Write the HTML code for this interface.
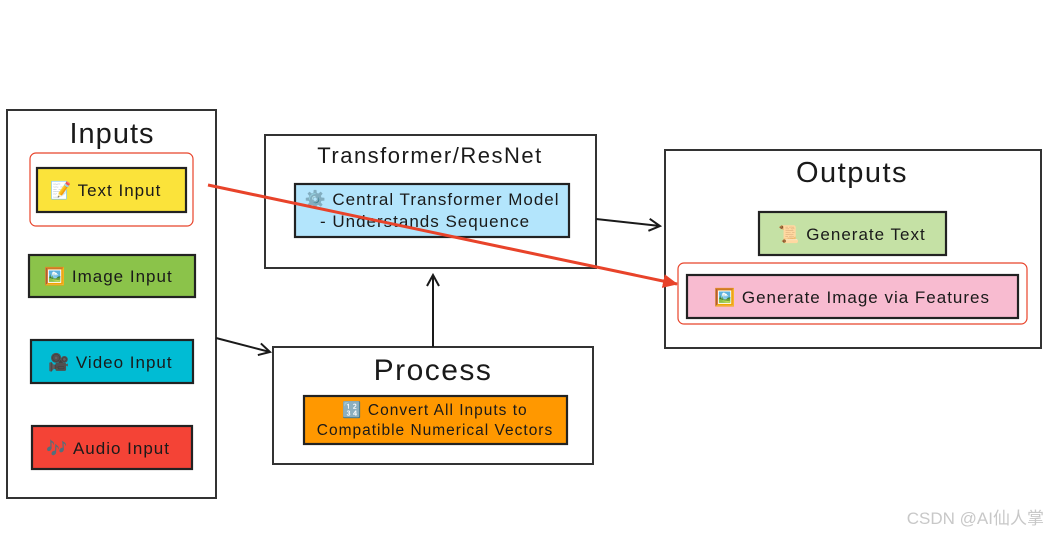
<!DOCTYPE html>
<html><head><meta charset="utf-8"><style>
html,body{margin:0;padding:0;background:#fff;width:1049px;height:534px;overflow:hidden}
svg{display:block}
text{font-family:"Liberation Sans","Noto Sans CJK SC",sans-serif;fill:#1a1a1a}
</style></head><body>
<svg width="1049" height="534" viewBox="0 0 1049 534" xmlns="http://www.w3.org/2000/svg">
<defs>
<marker id="ah" markerWidth="14" markerHeight="14" refX="12" refY="7" orient="auto" markerUnits="userSpaceOnUse">
<path d="M1,1 L12,7 L1,13" fill="none" stroke="#1a1a1a" stroke-width="2"/>
</marker>
<marker id="rh" markerWidth="16" markerHeight="14" refX="14" refY="7" orient="auto" markerUnits="userSpaceOnUse">
<path d="M0,0 L15,7 L0,14 Z" fill="#e8432a"/>
</marker>
</defs>
<g stroke="#333" stroke-width="2" fill="#fff">
<rect x="7" y="110" width="209" height="388"/>
<rect x="265" y="135" width="331" height="133"/>
<rect x="273" y="347" width="320" height="117"/>
<rect x="665" y="150" width="376" height="198"/>
</g>
<text x="112" y="143" font-size="29" text-anchor="middle" letter-spacing="1">Inputs</text>
<text x="430" y="163" font-size="22" text-anchor="middle" letter-spacing="1.5">Transformer/ResNet</text>
<text x="433" y="380" font-size="30" text-anchor="middle" letter-spacing="1.5">Process</text>
<text x="852" y="182" font-size="29" text-anchor="middle" letter-spacing="1.5">Outputs</text>
<g stroke="#222" stroke-width="2.2">
<rect x="37" y="168" width="149" height="44" fill="#fbe33a"/>
<rect x="29" y="255" width="166" height="42" fill="#8bc34a"/>
<rect x="31" y="340" width="162" height="43" fill="#00bcd4"/>
<rect x="32" y="426" width="160" height="43" fill="#f44336"/>
<rect x="295" y="184" width="274" height="53" fill="#b3e5fc"/>
<rect x="304" y="396" width="263" height="48" fill="#ff9800"/>
<rect x="759" y="212" width="187" height="43" fill="#c5e1a5"/>
<rect x="687" y="275" width="331" height="43" fill="#f8bbd0"/>
</g>
<g font-size="17" letter-spacing="1">
<text x="50" y="196">📝 Text Input</text>
<text x="44" y="282">🖼️ Image Input</text>
<text x="48" y="368">🎥 Video Input</text>
<text x="46" y="454">🎶 Audio Input</text>
<text x="432" y="205" text-anchor="middle">⚙️ Central Transformer Model</text>
<text x="425" y="227" text-anchor="middle">- Understands Sequence</text>
<text x="435" y="415" text-anchor="middle" font-size="15.5">🔢 Convert All Inputs to</text>
<text x="435" y="435" text-anchor="middle" font-size="15.5">Compatible Numerical Vectors</text>
<text x="852" y="240" text-anchor="middle">📜 Generate Text</text>
<text x="852" y="303" text-anchor="middle">🖼️ Generate Image via Features</text>
</g>
<g stroke="#1a1a1a" stroke-width="2" fill="none">
<line x1="216" y1="338" x2="270" y2="352" marker-end="url(#ah)"/>
<line x1="433" y1="347" x2="433" y2="275" marker-end="url(#ah)"/>
<line x1="596" y1="219" x2="660" y2="226" marker-end="url(#ah)"/>
</g>
<rect x="30" y="153" width="163" height="73" rx="6" fill="none" stroke="#e8432a" stroke-width="1.2"/>
<rect x="678" y="263" width="349" height="61" rx="6" fill="none" stroke="#e8432a" stroke-width="1.2"/>
<line x1="208" y1="185" x2="677" y2="284" stroke="#e8432a" stroke-width="3" marker-end="url(#rh)"/>
<text x="1044" y="524" font-size="17" text-anchor="end" style="fill:#c8c8c8">CSDN @AI仙人掌</text>
</svg>
</body></html>
